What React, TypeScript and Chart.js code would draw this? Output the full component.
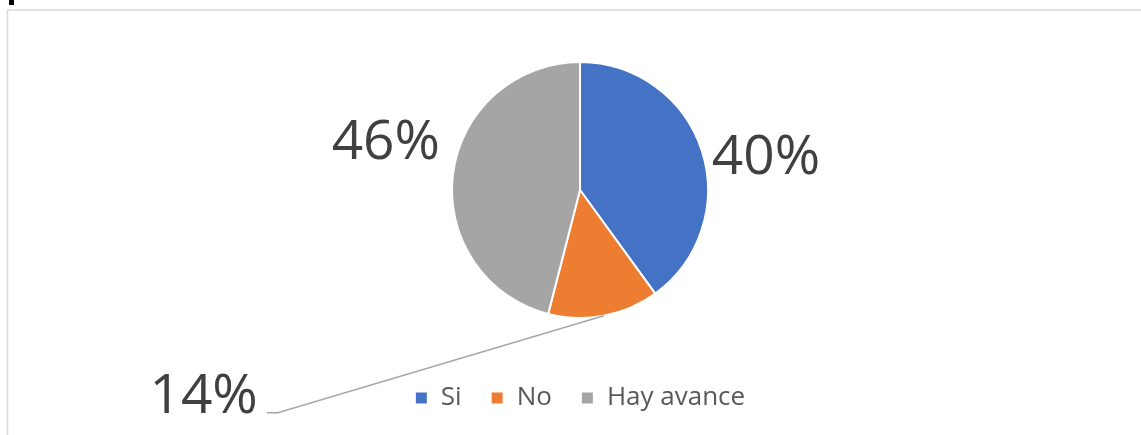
import React, { useEffect, useRef } from "react";
import { Chart, registerables } from "chart.js";

Chart.register(...registerables);

// ---- Data ----
const categories: string[] = ["Si", "No", "Hay avance"];
const values: number[] = [40, 14, 46];
const colors: string[] = ["#4472C4", "#ED7D31", "#A5A5A5"];

// ---- Styles / layout ----
const W = 1141;
const H = 435;
const FONT = "'Open Sans', 'Noto Sans', sans-serif";
const LABEL_SIZE = 55;
const LABEL_COLOR = "#404040";
const LEGEND_COLOR = "#595959";

// placement of each data label relative to the slice's outer edge at its mid-angle
const labelPlacement: any[] = [
  { dx: 11, dy: 23.5, align: "left" },
  { leader: true, elbowDx: -326, elbowDy: 98, tail: 11, gap: 9, align: "right" },
  { dx: -14, dy: -15, align: "right" },
];

const framePlugin = {
  id: "frame",
  beforeDraw(chart: any) {
    const ctx = chart.ctx as CanvasRenderingContext2D;
    ctx.save();
    ctx.fillStyle = "#ffffff";
    ctx.fillRect(0, 0, W, H);
    ctx.strokeStyle = "#D9D9D9";
    ctx.lineWidth = 1.5;
    ctx.beginPath();
    ctx.moveTo(7.5, H);
    ctx.lineTo(7.5, 10);
    ctx.lineTo(W, 10);
    ctx.stroke();
    ctx.fillStyle = "#000000";
    ctx.fillRect(9, 0, 5, 5);
    ctx.restore();
  },
};

const labelPlugin = {
  id: "pieLabels",
  afterDatasetsDraw(chart: any) {
    const ctx = chart.ctx as CanvasRenderingContext2D;
    const meta = chart.getDatasetMeta(0);
    const data = chart.data.datasets[0].data as number[];
    const total = data.reduce((a, b) => a + b, 0);
    ctx.save();
    ctx.font = `${LABEL_SIZE}px ${FONT}`;
    ctx.fillStyle = LABEL_COLOR;
    ctx.textBaseline = "alphabetic";
    meta.data.forEach((arc: any, i: number) => {
      const p = arc.getProps(["x", "y", "startAngle", "endAngle", "outerRadius"], true);
      const mid = (p.startAngle + p.endAngle) / 2;
      const r = p.outerRadius - 1;
      const ex = p.x + Math.cos(mid) * r;
      const ey = p.y + Math.sin(mid) * r;
      const text = Math.round((data[i] / total) * 100) + "%";
      const pl = labelPlacement[i];
      if (pl.leader) {
        const bx = ex + pl.elbowDx;
        const by = ey + pl.elbowDy;
        ctx.save();
        ctx.strokeStyle = "#A6A6A6";
        ctx.lineWidth = 1.4;
        ctx.beginPath();
        ctx.moveTo(ex, ey + 1);
        ctx.lineTo(bx, by);
        ctx.lineTo(bx - pl.tail, by);
        ctx.stroke();
        ctx.restore();
        ctx.textAlign = "right";
        ctx.fillText(text, bx - pl.tail - pl.gap, by);
      } else {
        ctx.textAlign = pl.align;
        ctx.fillText(text, ex + pl.dx, ey + pl.dy);
      }
    });
    ctx.restore();
  },
};

export default function App() {
  const ref = useRef<HTMLCanvasElement | null>(null);
  useEffect(() => {
    if (!ref.current) return;
    const chart = new Chart(ref.current, {
      type: "pie",
      data: {
        labels: categories,
        datasets: [
          {
            data: values,
            backgroundColor: colors,
            borderColor: "#ffffff",
            borderWidth: 2,
            radius: 128,
          } as any,
        ],
      },
      options: {
        responsive: false,
        animation: false,
        layout: { padding: { left: 19, right: 0, top: 24, bottom: 14 } },
        plugins: {
          tooltip: { enabled: false },
          legend: {
            display: true,
            position: "bottom",
            labels: {
              boxWidth: 13,
              boxHeight: 13,
              padding: 29,
              color: LEGEND_COLOR,
              font: { family: FONT, size: 26 },
            },
          },
        },
      },
      plugins: [framePlugin, labelPlugin],
    });
    return () => chart.destroy();
  }, []);
  return (
    <div style={{ position: "absolute", left: 0, top: 0, width: W, height: H, background: "#fff" }}>
      <canvas ref={ref} width={W} height={H} style={{ display: "block" }} />
    </div>
  );
}
